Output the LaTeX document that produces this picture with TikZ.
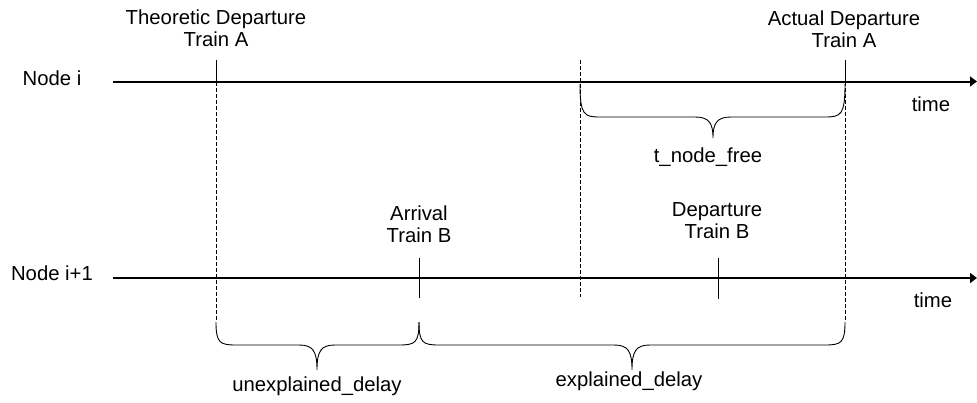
\documentclass[tikz,border=0pt]{standalone}
\usepackage{fontspec}
\setmainfont{Liberation Sans}
\usetikzlibrary{arrows.meta}
\begin{document}
\begin{tikzpicture}[x=1pt,y=-1pt,
  lbl/.style={font=\fontsize{20.3}{22}\selectfont,align=center,inner sep=0pt},
  axis/.style={line width=2pt,-{Triangle[length=7pt,width=10pt]}},
  tick/.style={line width=0.9pt},
  guide/.style={line width=0.8pt,dash pattern=on 4pt off 2pt},
  bracestyle/.style={line width=0.9pt}]
\path[use as bounding box,fill=white] (0,0) rectangle (977,402);
\newcommand\mybrace[6]{%
  \draw[bracestyle] (#1,#4) .. controls (#1,{#5-2}) and ({#1+4},#5) .. ({#1+20},#5)
    -- ({#3-18},#5) .. controls ({#3-4},#5) and (#3,{#5+6}) .. (#3,#6)
    .. controls (#3,{#5+6}) and ({#3+4},#5) .. ({#3+18},#5)
    -- ({#2-20},#5) .. controls ({#2-4},#5) and (#2,{#5-2}) .. (#2,#4);}
% coordinates
\coordinate (aL) at (113,81.5);
\coordinate (aR) at (977,81.5);
\coordinate (bL) at (113,278);
\coordinate (bR) at (977,278);
\coordinate (thT) at (216,60);
\coordinate (thM) at (216,81.5);
\coordinate (thB) at (216,320);
\coordinate (acT) at (845,60);
\coordinate (acM) at (845,81.5);
\coordinate (acB) at (845,320);
\coordinate (frT) at (580,60);
\coordinate (frB) at (580,297);
\coordinate (arT) at (419,258);
\coordinate (arB) at (419,298);
\coordinate (dpT) at (718,258);
\coordinate (dpB) at (718,299);
% labels
\node[lbl] (ni) at (52,78) {Node i};
\node[lbl] (ni1) at (52,273) {Node i+1};
\node[lbl] (theo) at (216,28) {Theoretic Departure\\Train A};
\node[lbl] (act) at (844,29) {Actual Departure\\Train A};
\node[lbl] (arr) at (419,224) {Arrival\\Train B};
\node[lbl] (dep) at (717,221) {Departure\\Train B};
\node[lbl] (time1) at (931,104) {time};
\node[lbl] (time2) at (933,300) {time};
\node[lbl] (free) at (708,157) {t\_node\_free};
\node[lbl] (unexp) at (317,386) {unexplained\_delay};
\node[lbl] (exp) at (629,381) {explained\_delay};
% axes
\draw[axis] (aL) -- (aR);
\draw[axis] (bL) -- (bR);
% ticks and guides
\draw[tick] (thT) -- (thM);
\draw[guide] (thM) -- (thB);
\draw[tick] (acT) -- (acM);
\draw[guide] (acM) -- (acB);
\draw[guide] (frT) -- (frB);
\draw[tick] (arT) -- (arB);
\draw[tick] (dpT) -- (dpB);
% braces
\mybrace{580}{845}{713}{84}{117}{138}
\mybrace{216}{419}{317}{322}{345}{370}
\mybrace{419}{845}{632}{322}{345}{370}
\end{tikzpicture}
\end{document}
